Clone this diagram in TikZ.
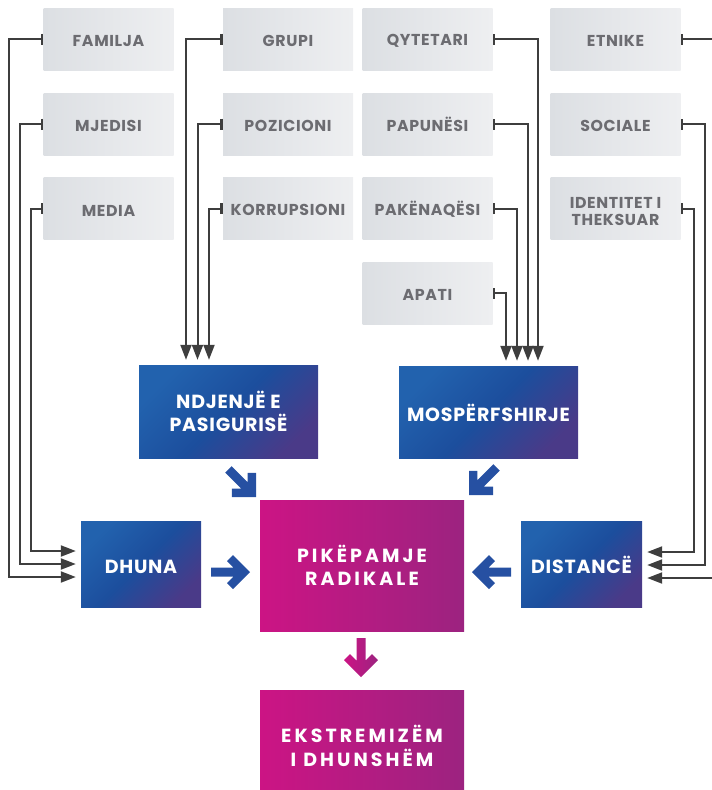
\documentclass[tikz,border=0pt]{standalone}
\usepackage{fontspec}
\setmainfont{Poppins}[LetterSpace=4]
\newfontfamily\widefont{Poppins}[LetterSpace=16]
\usepackage{xcolor}
\usetikzlibrary{arrows.meta}

\definecolor{grayL}{HTML}{DCDFE3}
\definecolor{grayR}{HTML}{EEEFF1}
\definecolor{labelgray}{HTML}{6C6C71}
\definecolor{linegray}{HTML}{3E3E3E}
\definecolor{blueA}{HTML}{2262AE}
\definecolor{blueM}{HTML}{1C4E9D}
\definecolor{blueB}{HTML}{4A3A88}
\definecolor{arrowblue}{HTML}{2650A2}
\definecolor{magA}{HTML}{CC1484}
\definecolor{magB}{HTML}{9C2380}

\begin{document}
\begin{tikzpicture}[
  x=1pt, y=-1pt,
  factor/.style={
    left color=grayL, right color=grayR,
    minimum width=130pt, minimum height=62pt,
    inner sep=0pt, align=center, text height=15pt,
    font=\fontsize{15.8}{16.5}\selectfont\bfseries, text=labelgray
  },
  bluebox/.style={
    top color=blueA, bottom color=blueB, middle color=blueM, shading angle=45,
    inner sep=0pt, align=center, text height=18.5pt,
    font=\fontsize{19}{23}\selectfont\bfseries, text=white
  },
  magbox/.style={
    left color=magA, right color=magB,
    minimum width=204pt,
    inner sep=0pt, align=center,
    font=\widefont\fontsize{19}{23.5}\selectfont\bfseries, text=white
  },
  twoline/.style={text height=},
  feed/.style={
    draw=linegray, line width=2pt,
    {Bar[width=11pt,line width=2.5pt]}-{Triangle[length=15pt,width=11pt]},
    shorten >=5pt
  },
  blockarrow/.pic={
    \path[pic actions] (0,0) -- (-17,17) -- (-23,11) -- (-16.5,4.5) -- (-39,4.5)
      -- (-39,-4.5) -- (-16.5,-4.5) -- (-23,-11) -- (-17,-17) -- cycle;
  }
]
  \useasboundingbox (0,0) rectangle (712,790);

  % factors
  \node[factor] (familja)  at (108.5,39)  {FAMILJA};
  \node[factor] (mjedisi)  at (108.5,124) {MJEDISI};
  \node[factor] (media)    at (108.5,208.5) {MEDIA};

  \node[factor] (grupi)    at (288,39)    {GRUPI};
  \node[factor] (pozicioni) at (288,124)  {POZICIONI};
  \node[factor] (korrupsioni) at (288,208.5) {KORRUPSIONI};

  \node[factor] (qytetari) at (427.5,39)  {QYTETARI};
  \node[factor] (papunesi) at (427.5,124) {PAPUNËSI};
  \node[factor] (pakenaqesi) at (427.5,208.5) {PAKËNAQËSI};
  \node[factor] (apati)    at (427.5,293) {APATI};

  \node[factor] (etnike)   at (615.5,39)  {ETNIKE};
  \node[factor] (sociale)  at (615.5,124) {SOCIALE};
  \node[factor, twoline] (identitet) at (615.5,208.5) {\rule{0pt}{17pt}IDENTITET I\\THEKSUAR};

  % main boxes
  \node[bluebox, twoline, minimum width=179pt, minimum height=93pt] (ndjenje) at (228.5,411.5) {NDJENJË E\\PASIGURISË};
  \node[bluebox, minimum width=179pt, minimum height=92pt] (mosp) at (488.5,412) {MOSPËRFSHIRJE};
  \node[bluebox, minimum width=120pt, minimum height=86pt] (dhuna) at (141,564) {DHUNA};
  \node[bluebox, minimum width=121pt, minimum height=86pt] (distance) at (581.5,564) {DISTANCË};
  \node[magbox, minimum height=131pt] (radikale) at (362,565.5) {PIKËPAMJE\\RADIKALE};
  \node[magbox, minimum height=112pt] (ekstrem) at (362,746) {EKSTREMIZËM\\I DHUNSHËM};

  % left column
  \draw[feed] (familja.west) -- ++(-34,0) |- ([yshift=-13pt]dhuna.west);
  \draw[feed] (mjedisi.west) -- ++(-23,0) |- (dhuna.west);
  \draw[feed] (media.west) -- ++(-12,0) |- ([yshift=13pt]dhuna.west);

  % second column
  \draw[feed] (grupi.west) -| ([xshift=-42.5pt]ndjenje.north);
  \draw[feed] (pozicioni.west) -| ([xshift=-31pt]ndjenje.north);
  \draw[feed] (korrupsioni.west) -| ([xshift=-19.5pt]ndjenje.north);

  % third column
  \draw[feed] (qytetari.east) -| ([xshift=49.5pt]mosp.north);
  \draw[feed] (papunesi.east) -| ([xshift=39.5pt]mosp.north);
  \draw[feed] (pakenaqesi.east) -| ([xshift=28.5pt]mosp.north);
  \draw[feed] (apati.east) -| ([xshift=17.5pt]mosp.north);

  % right column
  \draw[feed] (etnike.east) -- ++(36,0) |- ([yshift=-14pt]distance.east);
  \draw[feed] (sociale.east) -- ++(24,0) |- ([yshift=-1pt]distance.east);
  \draw[feed] (identitet.east) -- ++(13,0) |- ([yshift=12pt]distance.east);

  % block arrows
  \pic[fill=arrowblue, rotate=-45] at (256,497) {blockarrow};
  \pic[fill=arrowblue, rotate=-135] at (469,495) {blockarrow};
  \pic[fill=arrowblue] at (250,572) {blockarrow};
  \pic[fill=arrowblue, rotate=180] at (472,572) {blockarrow};
  \pic[left color=magA, right color=magB, rotate=-90] at (361,677) {blockarrow};

\end{tikzpicture}
\end{document}
